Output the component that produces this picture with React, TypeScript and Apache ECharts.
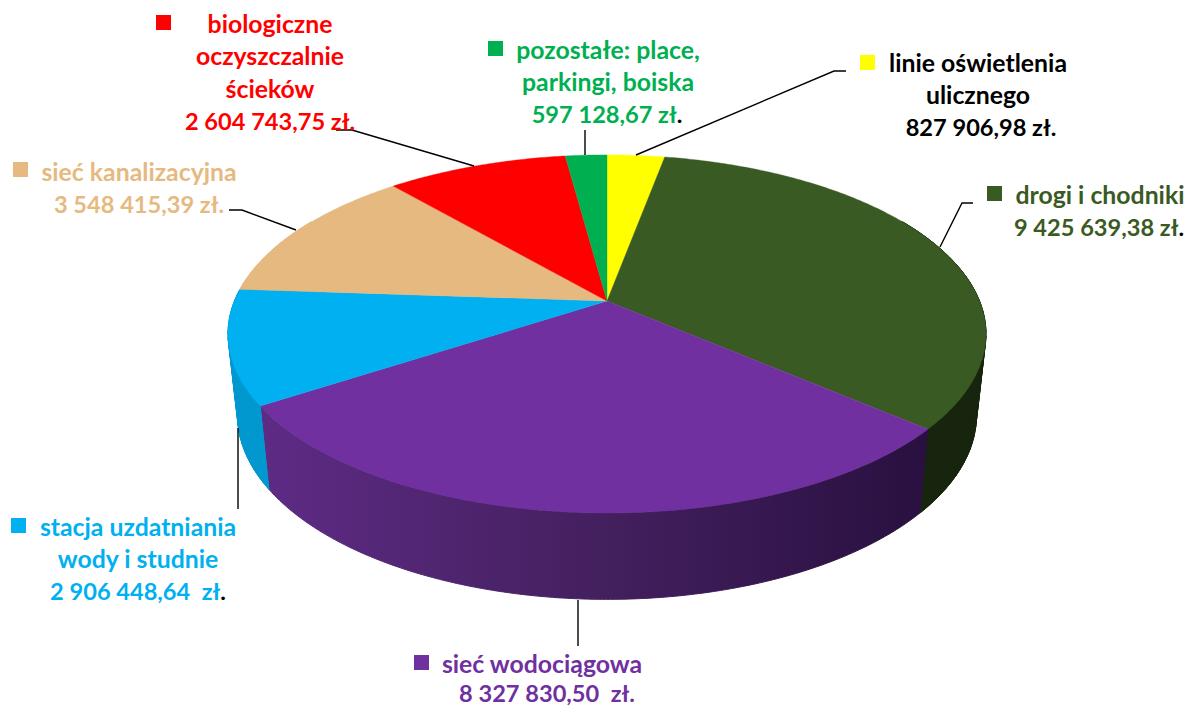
import React, { useEffect, useRef } from "react";
import * as echarts from "echarts";

const categories = [
  "linie oświetlenia ulicznego",
  "drogi i chodniki",
  "sieć wodociągowa",
  "stacja uzdatniania wody i studnie",
  "sieć kanalizacyjna",
  "biologiczne oczyszczalnie ścieków",
  "pozostałe: place, parkingi, boiska",
];
const values = [827906.98, 9425639.38, 8327830.5, 2906448.64, 3548415.39, 2604743.75, 597128.67];
const topColors = ["#FFFF00", "#3A5A24", "#7030A0", "#00B0F0", "#E6B980", "#FF0000", "#00B050"];
const textColors = ["#000000", "#3A5A24", "#7030A0", "#00B0F0", "#E6B980", "#FF0000", "#00B050"];

const labelLines = [
  ["linie oświetlenia", "ulicznego", "827 906,98 zł."],
  ["drogi i chodniki", "9 425 639,38 zł."],
  ["sieć wodociągowa", "8 327 830,50  zł."],
  ["stacja uzdatniania", "wody i studnie", "2 906 448,64  zł."],
  ["sieć kanalizacyjna", "3 548 415,39 zł."],
  ["biologiczne", "oczyszczalnie", "ścieków", "2 604 743,75 zł."],
  ["pozostałe: place,", "parkingi, boiska", "597 128,67 zł."],
];
// last line of these labels ends in a black full stop
const blackStop = [false, true, false, true, false, false, true];

// layout: centre x of each line, y of the first line, line gap, key square corner, leader polyline
const labelCx = [
  [978, 978, 981],
  [1100, 1099],
  [542, 547],
  [138, 138, 138],
  [139, 139],
  [270, 270, 270, 270],
  [608, 608, 607],
];
const labelY = [62, 194, 663, 526, 171, 23, 49];
const lineGaps = [32.6, 32.6, 29.5, 32.6, 32.6, 32.6, 32.6];
const keyPos = [[860, 55], [987, 186], [414, 655], [11, 518], [13, 162], [156, 15], [488, 41]];
const leaders = [
  [[636, 155], [834, 71], [846, 71]],
  [[940, 247], [962, 203], [973, 203]],
  [[578, 600], [578, 646]],
  [[238, 428], [238, 509]],
  [[296, 230], [242, 210], [229, 210]],
  [[474, 166], [352, 130], [336, 130]],
  [[585, 155], [585, 130]],
];

// projection of the pie disc
const APEX_X = 607;
const APEX_Y = 301;
const A = 372.5;
const B = 173;
const K = 0.184;
const BOTTOM_SX = 0.975;
const BOTTOM_SY = 1.03;
const BOTTOM_DY = 80;
const WALL_FROM = 60;
const WALL_TO = 300;

const total = values.reduce((s, v) => s + v, 0);
const sliceAngles = (i: number): [number, number] => {
  const before = values.slice(0, i).reduce((s, v) => s + v, 0);
  return [(before / total) * 360, ((before + values[i]) / total) * 360];
};
const topPoint = (deg: number): [number, number] => {
  const t = (deg * Math.PI) / 180;
  const u = Math.sin(t);
  const v = -Math.cos(t);
  const w = 1 - K * v;
  return [APEX_X + (A * u) / w, APEX_Y + (B * v) / w];
};
const bottomPoint = (deg: number): [number, number] => {
  const [x, y] = topPoint(deg);
  return [APEX_X + (x - APEX_X) * BOTTOM_SX, APEX_Y + (y - APEX_Y) * BOTTOM_SY + BOTTOM_DY];
};
const steps = (a0: number, a1: number, d = 0.5): number[] => {
  const n = Math.max(2, Math.ceil((a1 - a0) / d));
  const out: number[] = [];
  for (let i = 0; i <= n; i++) out.push(a0 + ((a1 - a0) * i) / n);
  return out;
};

const wallFill = (i: number): any => {
  if (i === 2) {
    return new echarts.graphic.LinearGradient(0, 0, 1, 0, [
      { offset: 0, color: "#5E2B85" },
      { offset: 0.5, color: "#44205F" },
      { offset: 1, color: "#291040" },
    ]);
  }
  if (i === 3) return "#0098CF";
  if (i === 1) return "#17240E";
  return topColors[i];
};

const renderWall = (params: any) => {
  const i = params.dataIndex;
  const [s, e] = sliceAngles(i);
  const a0 = Math.max(s, WALL_FROM);
  const a1 = Math.min(e, WALL_TO);
  if (a1 <= a0) return { type: "group", children: [] };
  const fill = wallFill(i);
  const whole = (points: number[][]) => ({
    type: "polygon",
    shape: { points },
    style: { fill, stroke: fill, lineWidth: 1 },
  });
  const ang = steps(a0, a1);
  const children: any[] = [whole([...ang.map(topPoint), ...ang.slice().reverse().map(bottomPoint)])];
  // slices at the pie's sides also need the straight silhouette: sweep narrow quads
  if (i !== 2) {
    const coarse = steps(a0, a1, 2);
    for (let j = 0; j < coarse.length - 1; j++) {
      children.push(
        whole([topPoint(coarse[j]), topPoint(coarse[j + 1]), bottomPoint(coarse[j + 1]), bottomPoint(coarse[j])])
      );
    }
  }
  return { type: "group", children };
};

const renderTop = (params: any) => {
  const i = params.dataIndex;
  const [s, e] = sliceAngles(i);
  const points = [[APEX_X, APEX_Y], ...steps(s, e).map(topPoint)];
  return {
    type: "polygon",
    shape: { points },
    style: { fill: topColors[i], stroke: topColors[i], lineWidth: 0.4 },
  };
};

const FAMILY = 'Lato, "Noto Sans", sans-serif';
const fontFor = (line: string) => `bold ${/\d/.test(line) ? 23.6 : 24.8}px ${FAMILY}`;

const buildGraphic = () => {
  const els: any[] = [];
  categories.forEach((_, i) => {
    els.push({
      type: "rect",
      shape: { x: keyPos[i][0], y: keyPos[i][1], width: 15, height: 15 },
      style: { fill: topColors[i] },
    });
    els.push({
      type: "polyline",
      shape: { points: leaders[i] },
      style: { stroke: "#000000", lineWidth: 1.4, fill: "none" },
      z: 10,
    });
    labelLines[i].forEach((line, j) => {
      const last = j === labelLines[i].length - 1;
      const content = last && blackStop[i] ? `{a|${line.slice(0, -1)}}{b|.}` : `{a|${line}}`;
      const font = fontFor(line);
      els.push({
        type: "text",
        x: labelCx[i][j],
        y: labelY[i] + j * lineGaps[i],
        style: {
          text: content,
          align: "center",
          verticalAlign: "middle",
          font,
          rich: {
            a: { fill: textColors[i], font, lineHeight: 20 },
            b: { fill: "#000000", font, lineHeight: 20 },
          },
        },
        z: 11,
      });
    });
  });
  return els;
};

export default function App() {
  const ref = useRef<HTMLDivElement>(null);
  useEffect(() => {
    document.body.style.margin = "0";
    const chart = echarts.init(ref.current!, undefined, { renderer: "svg" });
    chart.setOption({
      animation: false,
      backgroundColor: "#FFFFFF",
      series: [
        { type: "custom", coordinateSystem: "none", data: values.map((v) => [v]), renderItem: renderWall, silent: true, z: 1 },
        { type: "custom", coordinateSystem: "none", data: values.map((v, i) => ({ name: categories[i], value: [v] })), renderItem: renderTop, silent: true, z: 2 },
      ],
      graphic: { elements: buildGraphic() },
    });
    return () => chart.dispose();
  }, []);
  return <div ref={ref} style={{ width: 1189, height: 707 }} />;
}
